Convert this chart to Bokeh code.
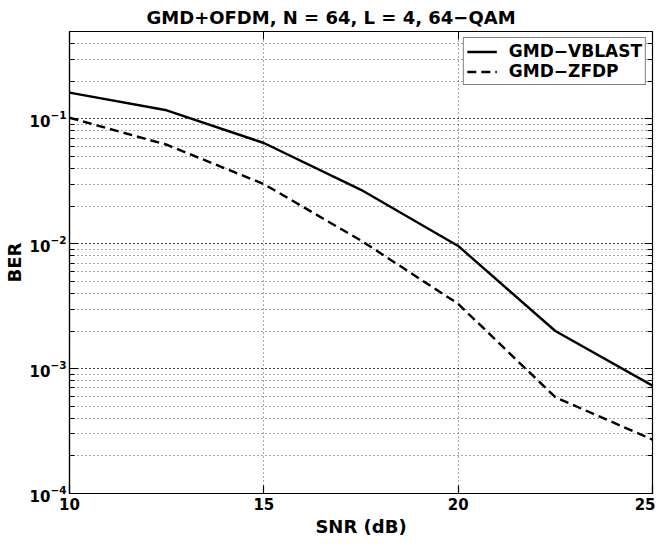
from bokeh.plotting import figure
from bokeh.models import (Range1d, LogAxis, LinearAxis, FixedTicker, LogTicker,
                          Legend, LegendItem)
from bokeh.embed import file_html
from bokeh.resources import INLINE

snr = [10, 12.5, 15, 17.5, 20, 22.5, 25]
ber_vblast = [0.162, 0.117, 0.064, 0.027, 0.0096, 0.0020, 0.00073]
ber_zfdp = [0.102, 0.062, 0.030, 0.0106, 0.0033, 0.00059, 0.00027]
x_ticks = [10, 15, 20, 25]

FONT = "DejaVu Sans"

p = figure(width=655, height=543, output_backend="svg", toolbar_location=None,
           x_range=Range1d(10, 25), y_range=Range1d(1e-4, 0.5), y_axis_type="log",
           min_border_left=58, min_border_right=3, min_border_top=5, min_border_bottom=50,
           background_fill_color="white", border_fill_color="white")

p.title.text = "GMD+OFDM, N = 64, L = 4, 64\u2212QAM"
p.title.text_font = FONT
p.title.text_font_size = "18px"
p.title.text_font_style = "bold"
p.title.text_color = "black"
p.title.align = "left"
p.title.offset = 77
p.title.standoff = 8

p.outline_line_color = "black"
p.outline_line_width = 1.2

# axes
xa = p.xaxis[0]
xa.ticker = FixedTicker(ticks=x_ticks)
xa.axis_label = "SNR (dB)"
ya = p.yaxis[0]
ya.ticker = LogTicker(num_minor_ticks=10)
ya.axis_label = "BER"
for ax in (xa, ya):
    ax.axis_label_text_font = FONT
    ax.axis_label_text_font_size = "18px"
    ax.axis_label_text_font_style = "bold"
    ax.axis_label_text_color = "black"
    ax.major_label_text_font = FONT
    ax.major_label_text_font_size = "15px"
    ax.major_label_text_font_style = "bold"
    ax.major_label_text_color = "black"
    ax.axis_line_color = "black"
    ax.axis_line_width = 1.2
    ax.major_tick_in = 8
    ax.major_tick_out = 0
    ax.minor_tick_in = 5
    ax.minor_tick_out = 0
    ax.major_tick_line_width = 1.2
    ax.minor_tick_line_width = 1.2
xa.minor_tick_line_color = None
xa.major_label_standoff = 4
xa.axis_label_standoff = 3
ya.major_label_standoff = 3
ya.axis_label_standoff = 2

xa2 = LinearAxis(ticker=FixedTicker(ticks=x_ticks), major_label_text_color=None,
                 major_label_text_font_size="1px",
                 major_tick_in=8, major_tick_out=0, minor_tick_line_color=None,
                 axis_line_color="black", major_label_standoff=0)
ya2 = LogAxis(ticker=LogTicker(num_minor_ticks=10), major_label_text_color=None,
              major_label_text_font_size="1px",
              major_tick_in=8, major_tick_out=0, minor_tick_in=5, minor_tick_out=0,
              axis_line_color="black", major_label_standoff=0)
p.add_layout(xa2, "above")
p.add_layout(ya2, "right")

# grids
p.xgrid.grid_line_color = "black"
p.xgrid.grid_line_dash = "1 3"
p.xgrid.grid_line_width = 1
p.xgrid.grid_line_alpha = 0.7
p.ygrid.grid_line_color = "black"
p.ygrid.grid_line_dash = "1 3"
p.ygrid.grid_line_alpha = 0.7
p.ygrid.minor_grid_line_color = "black"
p.ygrid.minor_grid_line_dash = "1 3"
p.ygrid.minor_grid_line_alpha = 0.7

r1 = p.line(snr, ber_vblast, line_color="black", line_width=2.4)
r2 = p.line(snr, ber_zfdp, line_color="black", line_width=2.4, line_dash="9 5")

legend = Legend(items=[LegendItem(label="GMD\u2212VBLAST", renderers=[r1]),
                       LegendItem(label="GMD\u2212ZFDP", renderers=[r2])],
                location="top_right")
legend.label_text_font = FONT
legend.label_text_font_size = "17px"
legend.label_text_font_style = "bold"
legend.label_text_color = "black"
legend.border_line_color = "black"
legend.border_line_width = 1.2
legend.glyph_width = 30
legend.glyph_height = 17
legend.label_height = 17
legend.spacing = 0
legend.padding = 3
legend.margin = 6
legend.label_standoff = 12
p.add_layout(legend, "center")

open("out.html", "w").write(file_html(p, INLINE))
